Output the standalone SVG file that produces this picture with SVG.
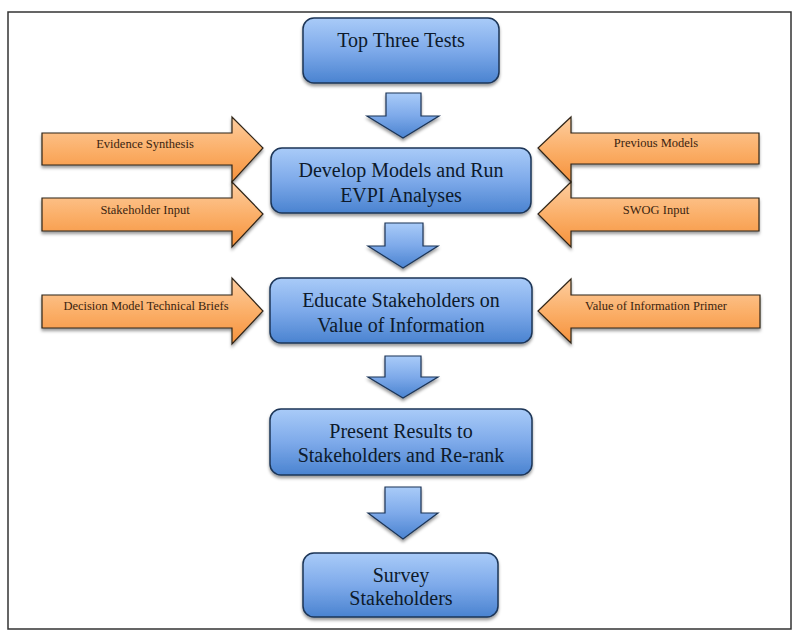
<svg xmlns="http://www.w3.org/2000/svg" width="800" height="637" viewBox="0 0 800 637">
<defs>
<linearGradient id="gb" x1="0" y1="0" x2="0" y2="1">
<stop offset="0" stop-color="#a9cbf8"/>
<stop offset="0.5" stop-color="#7eaaea"/>
<stop offset="1" stop-color="#4a83d0"/>
</linearGradient>
<linearGradient id="go" x1="0" y1="0" x2="0" y2="1">
<stop offset="0" stop-color="#fdcd9f"/>
<stop offset="0.5" stop-color="#fbb06a"/>
<stop offset="1" stop-color="#f6923c"/>
</linearGradient>
<filter id="sh" x="-10%" y="-10%" width="120%" height="130%">
<feDropShadow dx="0" dy="2.5" stdDeviation="1.5" flood-color="#000" flood-opacity="0.4"/>
</filter>
</defs>
<style>
.box{fill:url(#gb);stroke:#1c3557;stroke-width:1.5;filter:url(#sh)}
.dn{fill:url(#gb);stroke:#1c3557;stroke-width:1.2;filter:url(#sh)}
.or{fill:url(#go);stroke:#2f2418;stroke-width:1.2;filter:url(#sh)}
.t{font-family:"Liberation Serif","DejaVu Serif",serif;font-size:20px;fill:#0d1a2b;text-anchor:middle}
.s{font-family:"Liberation Serif","DejaVu Serif",serif;font-size:12.5px;fill:#3a2410;text-anchor:middle}
</style>
<rect x="0" y="0" width="800" height="637" fill="#fff"/>
<rect x="8" y="12" width="783" height="617" fill="none" stroke="#333" stroke-width="1.5"/>

<g id="connectors">
<polygon class="dn" points="386,93 421,93 421,116 439,116 403,138 367,116 386,116"/>
<polygon class="dn" points="385,223 423,223 423,246 438,246 403,268 368,246 385,246"/>
<polygon class="dn" points="385,356 421,356 421,377 438,377 403,398 368,377 385,377"/>
<polygon class="dn" points="385,487 421,487 421,513 438,513 403,539 368,513 385,513"/>
</g>

<g id="evidence-synthesis">
<polygon class="or" points="42,133 232,133 232,117 263,148 232,182 232,165 42,165"/>
<text class="s" x="145" y="148">Evidence Synthesis</text>
</g>
<g id="stakeholder-input">
<polygon class="or" points="42,198 232,198 232,182 263,214 232,247 232,231 42,231"/>
<text class="s" x="145" y="214">Stakeholder Input</text>
</g>
<g id="previous-models">
<polygon class="or" points="759,133 571,133 571,117 538,148 571,182 571,164 759,164"/>
<text class="s" x="656" y="147">Previous Models</text>
</g>
<g id="swog-input">
<polygon class="or" points="759,198 571,198 571,182 538,214 571,247 571,231 759,231"/>
<text class="s" x="656" y="214">SWOG Input</text>
</g>
<g id="decision-model-briefs">
<polygon class="or" points="42,295 232,295 232,278 263,311 232,344 232,328 42,328"/>
<text class="s" x="146" y="310">Decision Model Technical Briefs</text>
</g>
<g id="voi-primer">
<polygon class="or" points="760,295 571,295 571,279 538,311 571,343 571,328 760,328"/>
<text class="s" x="656" y="310">Value of Information Primer</text>
</g>

<g id="top-three-tests">
<rect class="box" x="303" y="18" width="196" height="65" rx="11"/>
<text class="t" x="401" y="47">Top Three Tests</text>
</g>
<g id="develop-models">
<rect class="box" x="271" y="148" width="260" height="65" rx="11"/>
<text class="t" x="401" y="177">Develop Models and Run</text>
<text class="t" x="401" y="202">EVPI Analyses</text>
</g>
<g id="educate-stakeholders">
<rect class="box" x="270" y="278" width="262" height="65" rx="11"/>
<text class="t" x="401" y="307">Educate Stakeholders on</text>
<text class="t" x="401" y="332">Value of Information</text>
</g>
<g id="present-results">
<rect class="box" x="270" y="409" width="262" height="66" rx="11"/>
<text class="t" x="401" y="438">Present Results to</text>
<text class="t" x="401" y="462">Stakeholders and Re-rank</text>
</g>
<g id="survey-stakeholders">
<rect class="box" x="303" y="553" width="195" height="64" rx="11"/>
<text class="t" x="401" y="582">Survey</text>
<text class="t" x="401" y="605">Stakeholders</text>
</g>
</svg>
